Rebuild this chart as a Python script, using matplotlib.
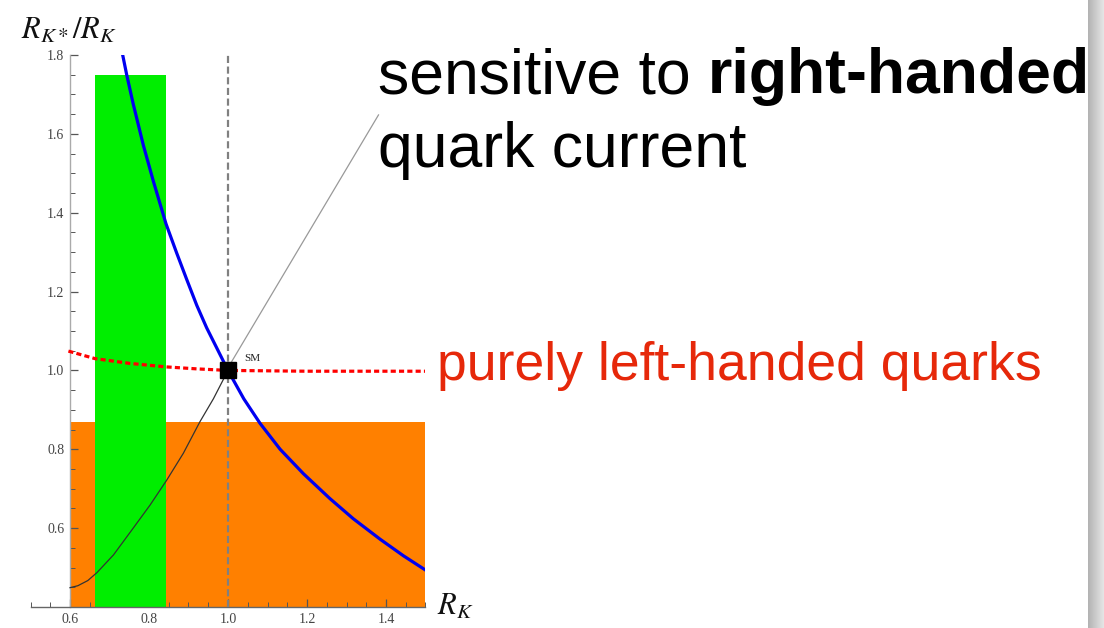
import numpy as np
import matplotlib
matplotlib.use("Agg")
import matplotlib.pyplot as plt
from matplotlib.patches import Rectangle
from matplotlib.ticker import MultipleLocator, FixedLocator

plt.rcParams["mathtext.fontset"] = "stix"

# --- data -------------------------------------------------------------
# allowed region from R_K (green) and from R_K*/R_K (orange)
green_band = (0.663, 0.843, 1.75)   # x_min, x_max, y_max
orange_band = (0.60, 1.50, 0.87)    # x_min, x_max, y_max

# right-handed current scan (blue)
blue_x = [0.7334, 0.7435, 0.760, 0.786, 0.811, 0.843, 0.870, 0.895, 0.921, 0.946,
          0.975, 1.000, 1.040, 1.081, 1.132, 1.191, 1.258, 1.317, 1.385, 1.444, 1.501]
blue_y = [1.800, 1.750, 1.676, 1.570, 1.480, 1.372, 1.298, 1.232, 1.165, 1.108,
          1.050, 1.000, 0.928, 0.866, 0.800, 0.738, 0.675, 0.624, 0.572, 0.530, 0.493]

# purely left-handed quarks (red dotted)
red_x = [0.596, 0.663, 0.750, 0.843, 0.920, 1.000, 1.100, 1.200, 1.300, 1.400, 1.500]
red_y = [1.049, 1.030, 1.018, 1.009, 1.004, 1.000, 0.999, 0.998, 0.998, 0.998, 0.998]

# thin black curve
black_x = [0.600, 0.620, 0.645, 0.668, 0.710, 0.760, 0.803, 0.845, 0.887, 0.929, 0.963, 1.000]
black_y = [0.449, 0.454, 0.467, 0.487, 0.532, 0.600, 0.659, 0.722, 0.790, 0.870, 0.928, 1.000]

# pointer from the text to the SM point
pointer_x = [0.996, 1.381]
pointer_y = [1.000, 1.648]

sm_point = (1.0, 1.0)

x_ticks = [0.6, 0.8, 1.0, 1.2, 1.4]
y_ticks = [0.6, 0.8, 1.0, 1.2, 1.4, 1.6, 1.8]

# --- figure -----------------------------------------------------------
W, H = 1104, 628
fig = plt.figure(figsize=(W / 100, H / 100), dpi=100)

def fx(px):
    return px / W

def fy(py):
    return 1 - py / H

ax = fig.add_axes([fx(30.5), fy(607), 395 / W, 552 / H])
ax.set_xlim(0.5, 1.5)
ax.set_ylim(0.4, 1.8)
ax.patch.set_alpha(0)

ax.add_patch(Rectangle((orange_band[0], 0.4), orange_band[1] - orange_band[0],
                       orange_band[2] - 0.4, color="#ff8000", lw=0, zorder=1))
ax.add_patch(Rectangle((green_band[0], 0.4), green_band[1] - green_band[0],
                       green_band[2] - 0.4, color="#00ee00", lw=0, zorder=2))

ax.axvline(1.0, color="#808080", lw=1.6, dashes=(3.2, 1.6), zorder=3)
ax.plot(black_x, black_y, color="#333333", lw=0.9, zorder=4)
ax.plot(pointer_x, pointer_y, color="#999999", lw=0.9, zorder=4, clip_on=False)
ax.plot(red_x, red_y, color="#ff0000", lw=2.3, dashes=(1.6, 1.0), zorder=5)
ax.plot(blue_x, blue_y, color="#0000f0", lw=2.3, zorder=6,
        solid_joinstyle="round")
ax.plot([sm_point[0]], [sm_point[1]], marker="s", ms=12, color="black", zorder=7)
ax.text(sm_point[0] + 0.04, sm_point[1] + 0.03, "SM", fontsize=8,
        family="Liberation Serif", color="#222222", va="center", ha="left")

for s in ("top", "right"):
    ax.spines[s].set_visible(False)
ax.spines["left"].set_position(("data", 0.6))
ax.spines["left"].set_color("#aaaaaa")
ax.spines["bottom"].set_color("#666666")
for s in ("left", "bottom"):
    ax.spines[s].set_linewidth(1.0)

ax.xaxis.set_major_locator(FixedLocator(x_ticks))
ax.yaxis.set_major_locator(FixedLocator(y_ticks))
ax.xaxis.set_minor_locator(MultipleLocator(0.05))
ax.yaxis.set_minor_locator(MultipleLocator(0.05))
ax.set_xticklabels([f"{v:.1f}" for v in x_ticks])
ax.set_yticklabels([f"{v:.1f}" for v in y_ticks])
ax.tick_params(which="major", direction="in", length=6, width=0.9, color="#555555",
               labelsize=10, labelcolor="#444444", pad=4)
ax.tick_params(which="minor", direction="in", length=3.5, width=0.7, color="#555555")
for lab in ax.get_xticklabels() + ax.get_yticklabels():
    lab.set_family("Liberation Serif")

fig.text(fx(21), fy(39), r"$R_{K*}/R_K$", fontsize=22, color="#111111",
         ha="left", va="baseline")
fig.text(fx(437), fy(615), r"$R_K$", fontsize=22, color="#111111",
         ha="left", va="baseline")

# slide annotations
t1 = fig.text(fx(378), fy(93), "sensitive to ", fontsize=45,
              family="Liberation Sans", color="black", ha="left", va="baseline")
fig.canvas.draw()
bb = t1.get_window_extent()
fig.text(bb.x1 / W, fy(93), "right-handed", fontsize=45, fontweight="bold",
         family="Liberation Sans", color="black", ha="left", va="baseline")
fig.text(fx(378), fy(167), "quark current", fontsize=45,
         family="Liberation Sans", color="black", ha="left", va="baseline")
fig.text(fx(437), fy(380), "purely left-handed quarks", fontsize=38.5,
         family="Liberation Sans", color="#e6280a", ha="left", va="baseline")

# page edge shadow on the right
sh = fig.add_axes([fx(1088), 0, 16 / W, 1])
sh.axis("off")
grad = np.linspace(0.70, 0.90, 32)[None, :]
sh.imshow(np.repeat(grad, 10, axis=0), cmap="gray", vmin=0, vmax=1,
          aspect="auto", extent=(0, 1, 0, 1))

fig.savefig("out.png", dpi=100)
